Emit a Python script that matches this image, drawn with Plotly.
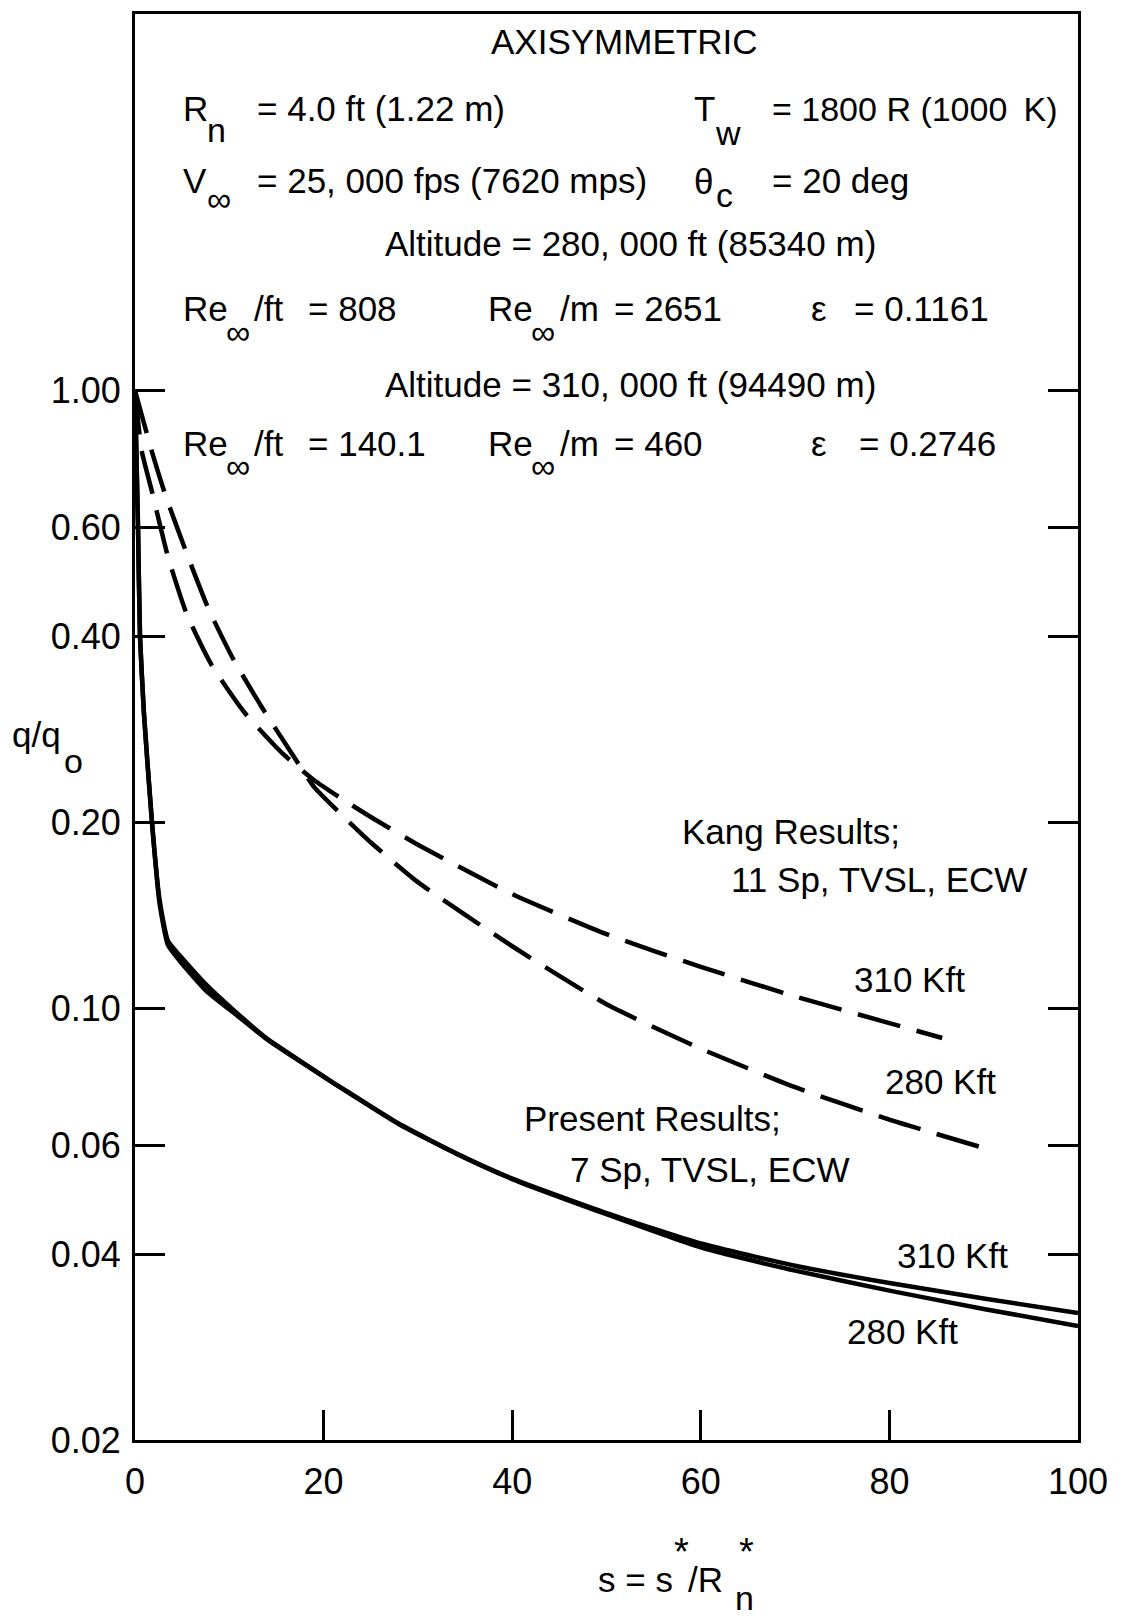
import numpy as np
import plotly.graph_objects as go

# ---------------- data ----------------
x_ticks = [0, 20, 40, 60, 80, 100]
x_tick_labels = ["0", "20", "40", "60", "80", "100"]
y_ticks = [0.02, 0.04, 0.06, 0.10, 0.20, 0.40, 0.60, 1.00]
y_tick_labels = ["0.02", "0.04", "0.06", "0.10", "0.20", "0.40", "0.60", "1.00"]

# Present results (7 Sp, TVSL, ECW) - solid
s_present_310 = [0, 0.32, 0.53, 0.95, 1.8, 2.6, 3.5, 4.8, 7.6, 10.4, 14, 17.5, 21, 24.6, 28, 34, 40, 50, 60, 70, 80, 90, 100]
q_present_310 = [1.0, 0.60, 0.40, 0.30, 0.20, 0.150, 0.1285, 0.1215, 0.109, 0.0995, 0.0893, 0.0822, 0.0758, 0.0700, 0.0650, 0.0583, 0.0530, 0.0466, 0.0416, 0.0383, 0.0359, 0.0339, 0.0321]
s_present_280 = [0, 0.32, 0.53, 0.95, 1.8, 2.6, 3.5, 4.8, 7.6, 10.4, 14, 17.5, 21, 24.6, 28, 34, 40, 50, 60, 70, 80, 90, 100]
q_present_280 = [1.0, 0.60, 0.40, 0.30, 0.20, 0.148, 0.1265, 0.1190, 0.1065, 0.0985, 0.0890, 0.0820, 0.0757, 0.0699, 0.0649, 0.0582, 0.0529, 0.0464, 0.0410, 0.0376, 0.0349, 0.0326, 0.0306]

# Kang results (11 Sp, TVSL, ECW) - dashed
s_kang_310 = [0, 0.7, 1.8, 3.5, 5.5, 8.1, 11.7, 15.7, 19, 22, 25, 30, 40, 50, 60, 70, 80, 85.6]
q_kang_310 = [1.0, 0.80, 0.686, 0.538, 0.434, 0.360, 0.300, 0.258, 0.234, 0.218, 0.204, 0.184, 0.153, 0.1318, 0.1167, 0.1045, 0.0946, 0.0895]
s_kang_280 = [0, 1.9, 3.2, 5.5, 7.8, 10.4, 13.4, 16.8, 19, 22.3, 25.1, 30, 40, 50, 60, 70, 80, 90]
q_kang_280 = [1.0, 0.786, 0.679, 0.544, 0.443, 0.368, 0.308, 0.256, 0.228, 0.203, 0.185, 0.160, 0.126, 0.1015, 0.0860, 0.0745, 0.0660, 0.0594]

# ---------------- layout constants ----------------
W, H = 1122, 1620
L, R, T, B = 135, 44, 11, 180
PW, PH = W - L - R, H - T - B
Y_TOP = 0.6096
FONT = "Liberation Sans, Arial, sans-serif"
MAIN = 35
SUB = 34


def px(xp):
    return (xp - L) / PW


def py(yp):
    return (H - B - yp) / PH


fig = go.Figure()

solid = dict(color="black", width=4.5, shape="spline", smoothing=0.5)
dashed = dict(color="black", width=4.5, dash="44px,17px", shape="spline", smoothing=0.5)

fig.add_trace(go.Scatter(x=s_present_280, y=q_present_280, mode="lines", line=solid, name="Present 280 Kft"))
fig.add_trace(go.Scatter(x=s_present_310, y=q_present_310, mode="lines", line=solid, name="Present 310 Kft"))
fig.add_trace(go.Scatter(x=s_kang_280, y=q_kang_280, mode="lines", line=dashed, name="Kang 280 Kft"))
fig.add_trace(go.Scatter(x=s_kang_310, y=q_kang_310, mode="lines", line=dashed, name="Kang 310 Kft"))

annotations = []


def ann(text, x, y, size=MAIN, xanchor="left"):
    annotations.append(dict(
        text=text, x=px(x), y=py(y), xref="paper", yref="paper",
        xanchor=xanchor, yanchor="middle", showarrow=False,
        font=dict(family=FONT, size=size, color="black"),
    ))


ann("AXISYMMETRIC", 624, 39, xanchor="center")
# line 1
ann("R", 181, 106)
ann("n", 205, 127, SUB)
ann("= 4.0 ft (1.22 m)", 255, 106)
ann("T", 692, 106)
ann("w", 713, 130, SUB)
ann("= 1800 R (1000 \u2009K)", 770, 106, 34)
# line 2
ann("V", 181, 178)
ann("\u221e", 205, 196, SUB)
ann("= 25, 000 fps (7620 mps)", 255, 178)
ann("\u03b8", 692, 179)
ann("c", 714, 192, SUB)
ann("= 20 deg", 770, 178)
# line 3
ann("Altitude = 280, 000 ft (85340 m)", 630, 241, xanchor="center")
# line 4
ann("Re", 181, 306)
ann("\u221e", 224, 330, SUB)
ann("/ft", 252, 306)
ann("= 808", 306, 306)
ann("Re", 486, 306)
ann("\u221e", 529, 330, SUB)
ann("/m", 558, 306)
ann("= 2651", 612, 306)
ann("\u03b5", 809, 306)
ann("= 0.1161", 852, 306)
# line 5
ann("Altitude = 310, 000 ft (94490 m)", 630, 382, xanchor="center")
# line 6
ann("Re", 181, 441)
ann("\u221e", 224, 464, SUB)
ann("/ft", 252, 441)
ann("= 140.1", 306, 441)
ann("Re", 486, 441)
ann("\u221e", 529, 464, SUB)
ann("/m", 558, 441)
ann("= 460", 612, 441)
ann("\u03b5", 809, 441)
ann("= 0.2746", 857, 441)

# curve labels
ann("Kang Results;", 680, 830)
ann("11 Sp, TVSL, ECW", 729, 878)
ann("310 Kft", 852, 979)
ann("280 Kft", 883, 1081)
ann("Present Results;", 522, 1118)
ann("7 Sp, TVSL, ECW", 568, 1169)
ann("310 Kft", 895, 1255)
ann("280 Kft", 845, 1331)

# axis titles
ann("q/q", 10, 733)
ann("o", 62, 760, SUB)
ann("s = s", 596, 1580)
ann("*", 672, 1552, 38)
ann("/R", 686, 1580)
ann("*", 737, 1552, 38)
ann("n", 733, 1598, SUB)

fig.update_layout(
    width=W, height=H,
    margin=dict(l=L, r=R, t=T, b=B, pad=0),
    paper_bgcolor="white", plot_bgcolor="white",
    showlegend=False,
    font=dict(family=FONT, size=36, color="black"),
    annotations=annotations,
)
fig.update_xaxes(
    range=[0, 100], tickmode="array", tickvals=x_ticks, ticktext=x_tick_labels,
    ticks="inside", ticklen=30, tickwidth=3, tickcolor="black",
    showline=True, linewidth=3, linecolor="black", mirror=True,
    showgrid=False, zeroline=False, ticklabelstandoff=8,
    tickfont=dict(family=FONT, size=36, color="black"),
)
fig.update_yaxes(
    type="log", range=[np.log10(0.02), Y_TOP], tickmode="array",
    tickvals=y_ticks, ticktext=y_tick_labels,
    ticks="inside", ticklen=30, tickwidth=3, tickcolor="black",
    showline=True, linewidth=3, linecolor="black", mirror="ticks",
    showgrid=False, zeroline=False, ticklabelstandoff=4,
    tickfont=dict(family=FONT, size=36, color="black"),
)

fig.write_html("out.html")
